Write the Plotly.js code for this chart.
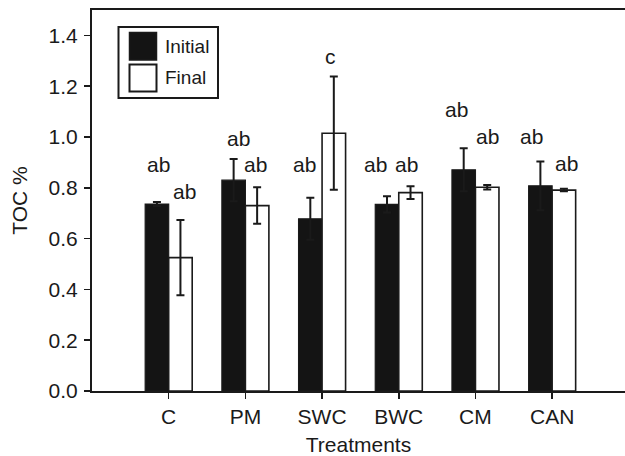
<!DOCTYPE html>
<html>
<head>
<meta charset="utf-8">
<script src="https://cdn.plot.ly/plotly-3.0.1.min.js"></script>
<style>
html,body{margin:0;padding:0;background:#fff;overflow:hidden;}
#chart{width:625px;height:456px;}
</style>
</head>
<body>
<div id="chart"></div>
<script>
// ---- data ----
const categories = ["C", "PM", "SWC", "BWC", "CM", "CAN"];
const seriesNames = ["Initial", "Final"];
const initialTOC = [0.736, 0.830, 0.678, 0.735, 0.871, 0.808];
const initialErr = [0.008, 0.083, 0.083, 0.032, 0.085, 0.096];
const finalTOC = [0.525, 0.730, 1.015, 0.781, 0.802, 0.791];
const finalErr = [0.148, 0.072, 0.223, 0.025, 0.009, 0.005];
const initialLetters = ["ab", "ab", "ab", "ab", "ab", "ab"];
const finalLetters = ["ab", "ab", "c", "ab", "ab", "ab"];
const initialLetterY = [0.858, 0.961, 0.858, 0.858, 1.075, 0.969];
const finalLetterY = [0.752, 0.858, 1.283, 0.858, 0.969, 0.862];
const yTickVals = [0, 0.2, 0.4, 0.6, 0.8, 1.0, 1.2, 1.4];
const yTickText = ["0.0", "0.2", "0.4", "0.6", "0.8", "1.0", "1.2", "1.4"];

const FONT = "Liberation Sans, Arial, Helvetica, sans-serif";
const INK = "#1a1a1a";
const FS = 21;
const idx = categories.map((c, i) => i);

const traces = [
  {
    type: "bar", name: seriesNames[0], x: idx, y: initialTOC,
    marker: {color: "#141414", line: {color: INK, width: 1.2}},
    error_y: {type: "data", array: initialErr, visible: true, color: INK, thickness: 2, width: 4},
    showlegend: false
  },
  {
    type: "bar", name: seriesNames[1], x: idx, y: finalTOC,
    marker: {color: "#ffffff", line: {color: INK, width: 1.6}},
    error_y: {type: "data", array: finalErr, visible: true, color: INK, thickness: 2, width: 4},
    showlegend: false
  }
];

// geometry in pixels for converting legend box to paper coords
const W = 625, H = 456, ML = 92, MR = 0, MT = 10, MB = 65;
const pw = W - ML - MR, ph = H - MT - MB;
const px = x => (x - ML) / pw;
const py = y => (H - MB - y) / ph;

// label placement (style): offset from bar centre, in pixels
const half = 0.153;
const initShift = [2, 5, -6, -12, -7, -9];
const finalShift = [4, -2, -3, -4, 0, 3];
const annotations = [];
idx.forEach(i => {
  annotations.push({
    xref: "x", yref: "y", x: i - half, y: initialLetterY[i], text: initialLetters[i],
    showarrow: false, yanchor: "bottom", yshift: -5, xshift: initShift[i],
    font: {family: FONT, size: FS, color: INK}
  });
  annotations.push({
    xref: "x", yref: "y", x: i + half, y: finalLetterY[i], text: finalLetters[i],
    showarrow: false, yanchor: "bottom", yshift: -5, xshift: finalShift[i],
    font: {family: FONT, size: FS, color: INK}
  });
});
// legend texts
annotations.push({xref: "paper", yref: "paper", x: px(163), y: py(46.5), text: seriesNames[0],
  showarrow: false, xanchor: "left", yanchor: "middle", font: {family: FONT, size: 19, color: INK}});
annotations.push({xref: "paper", yref: "paper", x: px(163), y: py(77), text: seriesNames[1],
  showarrow: false, xanchor: "left", yanchor: "middle", font: {family: FONT, size: 19, color: INK}});

const shapes = [
  {type: "rect", xref: "paper", yref: "paper", x0: px(118.5), x1: px(218), y0: py(98), y1: py(27),
   line: {color: INK, width: 2}, fillcolor: "rgba(0,0,0,0)"},
  {type: "rect", xref: "paper", yref: "paper", x0: px(129.5), x1: px(156.5), y0: py(60), y1: py(32.5),
   line: {color: INK, width: 1.5}, fillcolor: "#141414"},
  {type: "rect", xref: "paper", yref: "paper", x0: px(129.5), x1: px(156.5), y0: py(91.5), y1: py(64.5),
   line: {color: INK, width: 2}, fillcolor: "#ffffff"}
];

const layout = {
  width: W, height: H,
  margin: {l: ML, r: MR, t: MT, b: MB, pad: 0},
  paper_bgcolor: "#fff", plot_bgcolor: "#fff",
  barmode: "group", bargap: 0.387, bargroupgap: 0,
  font: {family: FONT, size: FS, color: INK},
  xaxis: {
    range: [-1, 5.95], tickmode: "array", tickvals: idx, ticktext: categories,
    showline: true, linecolor: INK, linewidth: 2, mirror: true,
    ticks: "outside", ticklen: 6, tickwidth: 1.5, tickcolor: INK,
    showgrid: false, zeroline: false,
    tickfont: {family: FONT, size: FS, color: INK},
    title: {text: "Treatments", font: {family: FONT, size: FS, color: INK}, standoff: 15}
  },
  yaxis: {
    range: [0, 1.5], tickmode: "array", tickvals: yTickVals, ticktext: yTickText,
    showline: true, linecolor: INK, linewidth: 2, mirror: false,
    ticks: "outside", ticklen: 6, tickwidth: 1.5, tickcolor: INK,
    showgrid: false, zeroline: false, ticklabelstandoff: 2,
    tickfont: {family: FONT, size: FS, color: INK},
    title: {text: "TOC %", font: {family: FONT, size: FS, color: INK}, standoff: 15}
  },
  shapes: shapes,
  annotations: annotations
};

Plotly.newPlot("chart", traces, layout, {displayModeBar: false, staticPlot: true});
</script>
</body>
</html>
